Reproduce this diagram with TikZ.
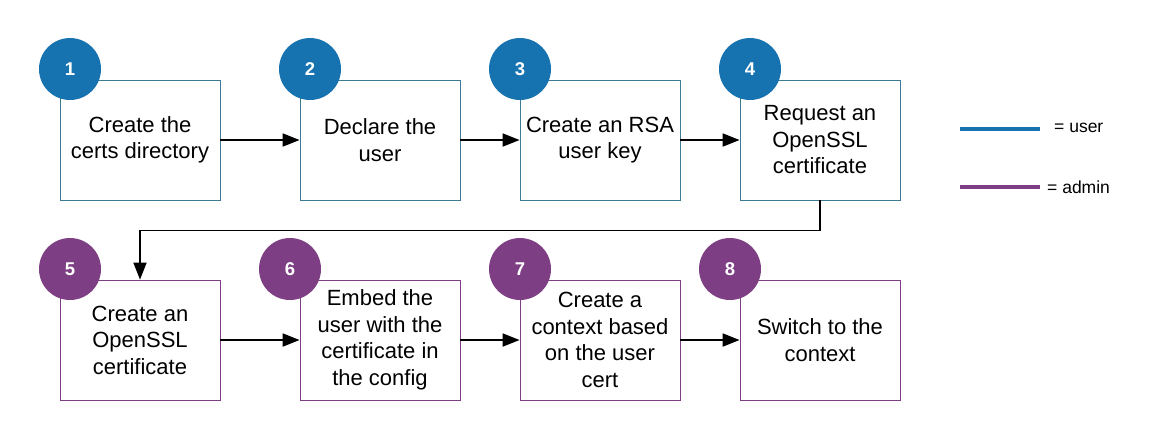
\documentclass[tikz,border=0pt]{standalone}
\usepackage{fontspec}
\setmainfont{Liberation Sans}
\usetikzlibrary{arrows.meta}
\definecolor{userblue}{RGB}{22,115,176}
\definecolor{userline}{RGB}{62,122,146}
\definecolor{adminpurple}{RGB}{126,62,131}
\tikzset{box/.style={draw, line width=0.8pt, minimum width=160pt, minimum height=120pt,
		inner sep=2pt, align=center, font=\fontsize{22}{26.5}\selectfont},
	userbox/.style={box, draw=userline},
	adminbox/.style={box, draw=adminpurple},
	num/.style={circle, minimum size=62pt, inner sep=0pt, text=white,
		font=\fontsize{18.5}{18.5}\selectfont\bfseries},
	flow/.style={-{Triangle[length=17pt,width=13pt]}, line width=1.8pt},
	key/.style={line width=4pt}}

\begin{document}
\begin{tikzpicture}[x=1pt,y=-1pt]
		\useasboundingbox (0,0) rectangle (1160,440);
		% steps of the user
		\node[userbox] (b1) at (140,140){Create the\\certs directory};
		\node[userbox] (b2) at (380,140){Declare the\\user};
		\node[userbox] (b3) at (600,140){Create an RSA\\user key};
		\node[userbox] (b4) at (820,140){Request an\\OpenSSL\\certificate};
		% steps of the admin
		\node[adminbox] (b5) at (140,340){Create an\\OpenSSL\\certificate};
		\node[adminbox] (b6) at (380,340){Embed the\\user with the\\certificate in\\the config};
		\node[adminbox] (b7) at (600,340){Create a\\context based\\on the user\\cert};
		\node[adminbox] (b8) at (820,340){Switch to the\\context};
		% numbers
		\node[num, fill=userblue] (c1) at (70,69){1};
		\node[num, fill=userblue] (c2) at (310,69){2};
		\node[num, fill=userblue] (c3) at (520,69){3};
		\node[num, fill=userblue] (c4) at (750,69){4};
		\node[num, fill=adminpurple] (c5) at (70,269){5};
		\node[num, fill=adminpurple] (c6) at (290,269){6};
		\node[num, fill=adminpurple] (c7) at (520,269){7};
		\node[num, fill=adminpurple] (c8) at (730,269){8};
		% arrows
		\draw[flow] (b1) to (b2);
		\draw[flow] (b2) to (b3);
		\draw[flow] (b3) to (b4);
		\draw[flow] (b4.south) -- ++(0,30) -| (b5.north);
		\draw[flow] (b5) to (b6);
		\draw[flow] (b6) to (b7);
		\draw[flow] (b7) to (b8);
		% legend
		\coordinate (u1) at (960,129);
		\coordinate (u2) at (1040,129);
		\coordinate (a1) at (960,187);
		\coordinate (a2) at (1040,187);
		\draw[key, userblue] (u1) -- (u2);
		\draw[key, adminpurple] (a1) -- (a2);
		\node[anchor=west, inner sep=0pt, font=\fontsize{17.5}{20}\selectfont] (ku) at (1054,128){= user};
		\node[anchor=west, inner sep=0pt, font=\fontsize{17.5}{20}\selectfont] (ka) at (1047,187){= admin};
		\end{tikzpicture}
\end{document}
